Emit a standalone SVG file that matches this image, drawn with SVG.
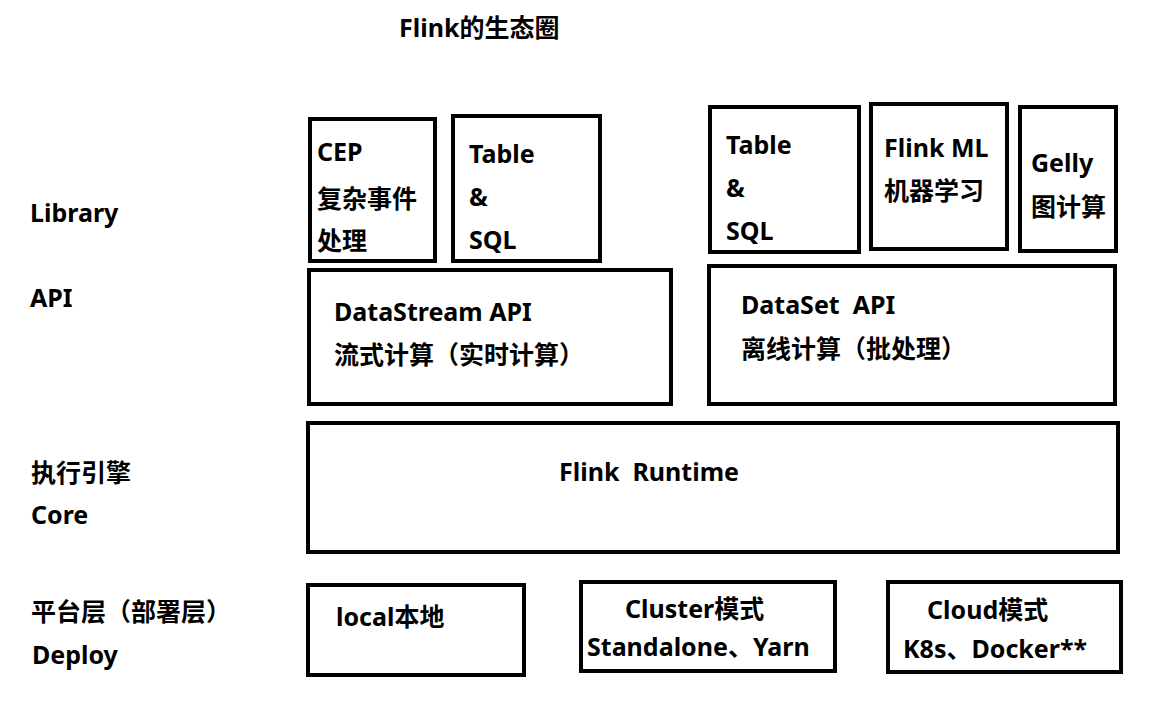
<svg xmlns="http://www.w3.org/2000/svg" width="1170" height="711" viewBox="0 0 1170 711">
<style>
.box{fill:#fff;stroke:#000;stroke-width:4}
text{font-family:"Noto Sans","Noto Sans CJK SC",sans-serif;font-weight:bold;font-size:25px;fill:#000;white-space:pre}
.t{font-size:25px}
</style>
<rect width="1170" height="711" fill="#fff"/>
<text class="t" x="399" y="37">Flink的生态圈</text>
<g id="layer-labels">
<text x="30" y="222">Library</text>
<text x="30" y="307">API</text>
<text x="31" y="482">执行引擎</text>
<text x="31" y="524">Core</text>
<text x="31" y="621">平台层（部署层）</text>
<text x="32" y="664">Deploy</text>
</g>
<g id="cep"><rect class="box" x="310" y="119" width="125" height="142"/>
<text x="317" y="161">CEP</text><text x="317" y="208">复杂事件</text><text x="317" y="250">处理</text></g>
<g id="table-sql-1"><rect class="box" x="453" y="116" width="147" height="145"/>
<text x="469" y="163">Table</text><text x="469" y="206">&amp;</text><text x="469" y="249">SQL</text></g>
<g id="table-sql-2"><rect class="box" x="710" y="107" width="149" height="145"/>
<text x="726" y="154">Table</text><text x="726" y="197">&amp;</text><text x="726" y="240">SQL</text></g>
<g id="flink-ml"><rect class="box" x="871" y="104" width="136" height="145"/>
<text x="884" y="157">Flink ML</text><text x="884" y="200">机器学习</text></g>
<g id="gelly"><rect class="box" x="1020" y="107" width="96" height="144"/>
<text x="1031" y="172">Gelly</text><text x="1031" y="216">图计算</text></g>
<g id="datastream"><rect class="box" x="309" y="270" width="362" height="134"/>
<text x="334" y="321">DataStream API</text><text x="334" y="364">流式计算（实时计算）</text></g>
<g id="dataset"><rect class="box" x="709" y="266" width="406" height="138"/>
<text x="741" y="314">DataSet  API</text><text x="741" y="358">离线计算（批处理）</text></g>
<g id="runtime"><rect class="box" x="308" y="423" width="810" height="129"/>
<text x="559" y="481">Flink  Runtime</text></g>
<g id="local"><rect class="box" x="308" y="585" width="216" height="90"/>
<text x="336" y="626">local本地</text></g>
<g id="cluster"><rect class="box" x="581" y="582" width="254" height="89"/>
<text x="625" y="618">Cluster模式</text><text x="587" y="656">Standalone、Yarn</text></g>
<g id="cloud"><rect class="box" x="888" y="582" width="233" height="90"/>
<text x="927" y="619">Cloud模式</text><text x="903" y="658">K8s、Docker**</text></g>
<g id="connectors"></g>
</svg>
